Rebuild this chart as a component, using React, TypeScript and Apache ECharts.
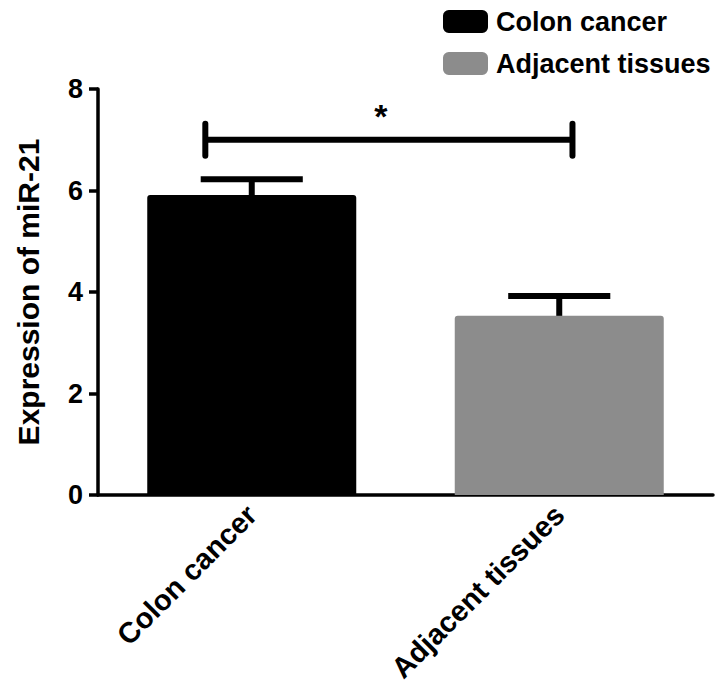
import React, { useEffect, useRef } from "react";
import * as echarts from "echarts";

const categories = ["Colon cancer", "Adjacent tissues"];
const seriesNames = ["Colon cancer", "Adjacent tissues"];
const meanValues = [5.91, 3.53];
const errorValues = [0.31, 0.39];
const barColors = ["#000000", "#8c8c8c"];
const yTicks = { min: 0, max: 8, interval: 2 };
const significance = { from: 0, to: 1, level: 7.0, mark: "*" };

const FONT = '"Liberation Sans", Arial, Helvetica, sans-serif';

export default function App() {
  const ref = useRef<HTMLDivElement>(null);

  useEffect(() => {
    document.body.style.margin = "0";
    if (!ref.current) return;
    const chart = echarts.init(ref.current, null, { renderer: "svg" });

    const barSeries = seriesNames.map((name, i) => ({
      name,
      type: "bar",
      data: meanValues.map((v, j) => (j === i ? v : "-")),
      barWidth: 209,
      barGap: "-100%",
      itemStyle: { color: barColors[i], borderRadius: [3, 3, 0, 0] },
      z: 2,
    }));

    const option = {
      animation: false,
      backgroundColor: "#ffffff",
      textStyle: { fontFamily: FONT },
      grid: { left: 98, right: 11, top: 89, bottom: 195, containLabel: false },
      legend: {
        data: seriesNames.map((n, i) => ({
          name: n,
          itemStyle: { color: barColors[i] },
        })),
        orient: "vertical",
        left: 438,
        top: 3,
        itemWidth: 45,
        itemHeight: 23,
        itemGap: 15,
        icon: "roundRect",
        selectedMode: false,
        textStyle: {
          fontSize: 27,
          fontWeight: "bold",
          color: "#000",
          fontFamily: FONT,
          padding: [0, 0, 0, 3],
        },
      },
      xAxis: {
        type: "category",
        data: categories,
        axisLine: { lineStyle: { color: "#000", width: 3.5 } },
        axisTick: { alignWithLabel: true, length: 10, lineStyle: { color: "#000", width: 3.5 } },
        axisLabel: {
          rotate: 45,
          margin: 15,
          fontSize: 29,
          fontWeight: "bold",
          color: "#000",
          fontFamily: FONT,
        },
      },
      yAxis: {
        type: "value",
        min: yTicks.min,
        max: yTicks.max,
        interval: yTicks.interval,
        name: "Expression of miR-21",
        nameLocation: "middle",
        nameGap: 55,
        nameTextStyle: {
          fontSize: 30,
          fontWeight: "bold",
          color: "#000",
          fontFamily: FONT,
        },
        splitLine: { show: false },
        axisLine: { show: true, lineStyle: { color: "#000", width: 3.5 } },
        axisTick: { show: true, length: 9, lineStyle: { color: "#000", width: 3.5 } },
        axisLabel: {
          margin: 15,
          fontSize: 27,
          fontWeight: "bold",
          color: "#000",
          fontFamily: FONT,
        },
      },
      series: [
        ...barSeries,
        {
          name: "errors",
          type: "custom",
          z: 3,
          data: meanValues.map((v, i) => [i, v, errorValues[i]]),
          renderItem: (params: any, api: any) => {
            const x = api.value(0);
            const v = api.value(1);
            const e = api.value(2);
            const base = api.coord([x, v]);
            const top = api.coord([x, v + e]);
            const bw = api.size([1, 0])[0];
            const half = bw * 0.166;
            const st = { stroke: "#000", lineWidth: 6 };
            return {
              type: "group",
              children: [
                { type: "line", shape: { x1: top[0], y1: base[1], x2: top[0], y2: top[1] }, style: st },
                { type: "line", shape: { x1: top[0] - half, y1: top[1], x2: top[0] + half, y2: top[1] }, style: st },
              ],
            };
          },
        },
        {
          name: "significance",
          type: "custom",
          z: 3,
          data: [[significance.from, significance.level, significance.to]],
          renderItem: (params: any, api: any) => {
            const from = api.value(0);
            const level = api.value(1);
            const to = api.value(2);
            const bw = api.size([1, 0])[0];
            const p1 = api.coord([from, level]);
            const p2 = api.coord([to, level]);
            const xl = p1[0] - bw * 0.151;
            const xr = p2[0] + bw * 0.043;
            const y = p1[1];
            const st = { stroke: "#000", lineWidth: 6, lineCap: "round" };
            return {
              type: "group",
              children: [
                { type: "line", shape: { x1: xl, y1: y, x2: xr, y2: y }, style: { stroke: "#000", lineWidth: 6 } },
                { type: "line", shape: { x1: xl, y1: y - 16, x2: xl, y2: y + 16 }, style: st },
                { type: "line", shape: { x1: xr, y1: y - 16, x2: xr, y2: y + 16 }, style: st },
                {
                  type: "text",
                  style: {
                    text: significance.mark,
                    x: p1[0] + bw * 0.42,
                    y: y - 24,
                    font: `bold 34px ${FONT}`,
                    fill: "#000",
                    textAlign: "center",
                    textVerticalAlign: "middle",
                  },
                },
              ],
            };
          },
        },
      ],
    };

    chart.setOption(option as any);
    return () => chart.dispose();
  }, []);

  return <div ref={ref} style={{ width: 724, height: 690 }} />;
}
